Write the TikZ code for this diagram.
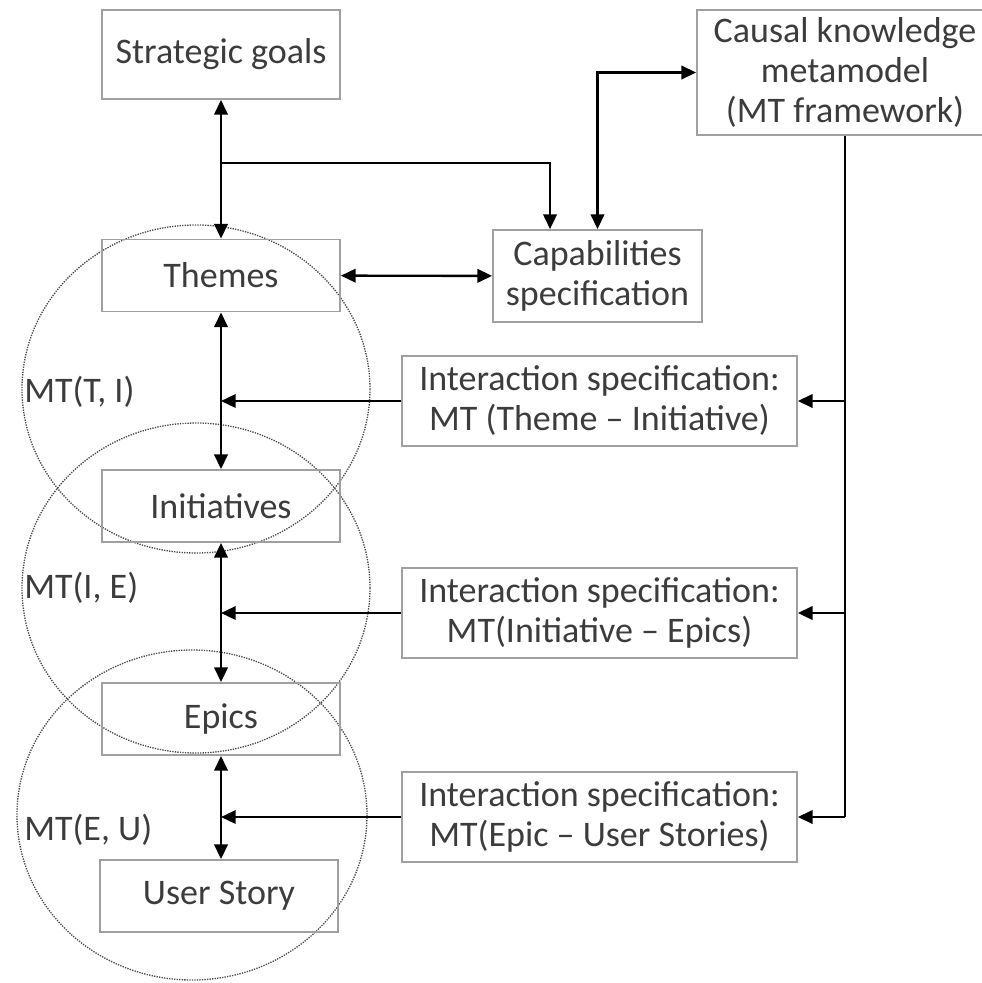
\documentclass[tikz,border=0pt]{standalone}
\usepackage{fontspec}
\setmainfont{Carlito}
\usetikzlibrary{arrows.meta}
\definecolor{boxgray}{HTML}{A0A0A0}
\definecolor{txtgray}{HTML}{3C3C3C}
\tikzset{
    box/.style={draw=boxgray, line width=1.3pt, text=txtgray, align=center, inner sep=0pt,
        font=\fontsize{27}{30}\selectfont},
    level/.style={box, minimum width=178.5pt, minimum height=54pt},
    spec/.style={box, minimum width=296.25pt, minimum height=67.5pt},
    link/.style={line width=1.8pt, -{Triangle[length=11pt,width=10pt]}},
    both/.style={link, {Triangle[length=11pt,width=10pt]}-{Triangle[length=11pt,width=10pt]}},
    zone/.style={draw=black!70, dash pattern=on 1pt off 0.9pt, line width=1pt},
    mtlabel/.style={anchor=west, text=txtgray, inner sep=0pt, font=\fontsize{27}{30}\selectfont}
}
\begin{document}
\begin{tikzpicture}[x=0.75pt, y=-0.75pt]
    \useasboundingbox (0, 0) rectangle (982, 983);
    % overlapping zones
    \draw[zone] (196, 389) ellipse [x radius=174, y radius=164];
    \draw[zone] (196, 588) ellipse [x radius=174, y radius=165];
    \draw[zone] (192, 815) ellipse [x radius=175, y radius=165];
    % left column
    \node[box, minimum width=178.5pt, minimum height=66.75pt] (goals) at (221, 54.5) {Strategic goals};
    \node[level] (themes) at (221, 275.5) {Themes};
    \node[level] (inits) at (221, 506) {Initiatives};
    \node[level] (epics) at (221, 719) {Epics};
    \node[level] (story) at (219, 896) {User Story};
    % right side
    \node[box, minimum width=156.75pt, minimum height=69pt] (caps) at (597.5, 276) {Capabilities\\specification};
    \node[box, minimum width=222pt, minimum height=93.75pt] (causal) at (845, 72.5) {Causal knowledge\\metamodel\\(MT framework)};
    \node[spec] (specti) at (599.5, 401) {Interaction specification:\\MT (Theme -- Initiative)};
    \node[spec] (specie) at (599.5, 613) {Interaction specification:\\MT(Initiative -- Epics)};
    \node[spec] (speceu) at (599.5, 817) {Interaction specification:\\MT(Epic -- User Stories)};
    % zone labels
    \node[mtlabel] (mtti) at (24, 392) {MT(T, I)};
    \node[mtlabel] (mtie) at (24, 588) {MT(I, E)};
    \node[mtlabel] (mteu) at (24, 830) {MT(E, U)};
    % top links
    \coordinate (split) at (221, 163);
    \draw[both] (goals) -- (themes);
    \draw[link] (split) -| ([xshift=-35.6pt]caps.north);
    \draw[both] (caps.north) |- (causal.west);
    \draw[both] (themes) -- (caps);
    % level links
    \draw[both] (themes) -- (inits);
    \draw[both] (inits) -- (epics);
    \draw[both] (epics.south) -- (story.north -| epics.south);
    % metamodel bus
    \draw[line width=1.8pt] (causal.south) -- (causal.south |- speceu.east);
    \draw[link] (causal.south |- specti.east) -- (specti.east);
    \draw[link] (causal.south |- specie.east) -- (specie.east);
    \draw[link] (causal.south |- speceu.east) -- (speceu.east);
    \draw[link] (specti.west) -- (specti.west -| themes.south);
    \draw[link] (specie.west) -- (specie.west -| inits.south);
    \draw[link] (speceu.west) -- (speceu.west -| epics.south);
\end{tikzpicture}
\end{document}
